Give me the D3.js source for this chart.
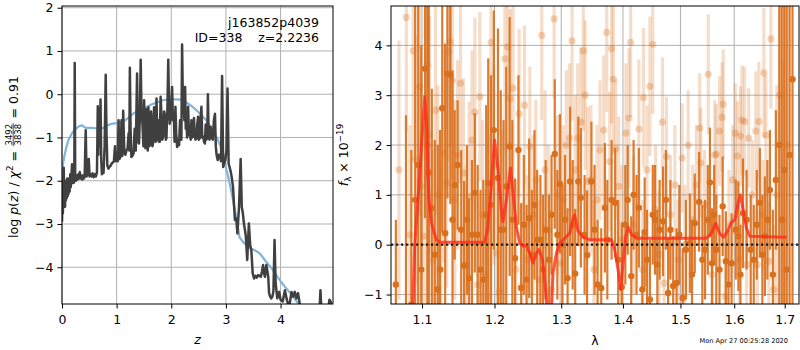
<!DOCTYPE html>
<html>
<head>
<meta charset="utf-8">
<script src="https://cdn.jsdelivr.net/npm/d3@7"></script>
<style>
  body { margin: 0; background: #fff; }
  text { font-family: "DejaVu Sans", sans-serif; fill: #000; }
</style>
</head>
<body>
<svg id="fig" width="800" height="350"></svg>
<script>
// ---------- redshift probability (left panel) ----------
const zGrid = [0.000,0.008,0.016,0.024,0.032,0.040,0.048,0.056,0.064,0.072,0.080,0.088,0.096,0.104,0.112,0.120,0.130,0.140,0.150,0.160,0.170,0.184,0.195,0.205,0.215,0.225,0.233,0.242,0.255,0.270,0.285,0.300,0.315,0.325,0.340,0.355,0.370,0.385,0.400,0.415,0.434,0.450,0.470,0.490,0.505,0.520,0.540,0.560,0.580,0.600,0.620,0.640,0.655,0.665,0.675,0.690,0.705,0.718,0.730,0.745,0.760,0.780,0.800,0.815,0.830,0.850,0.870,0.890,0.910,0.930,0.950,0.970,0.985,1.000,1.020,1.035,1.050,1.070,1.090,1.105,1.120,1.140,1.160,1.180,1.200,1.220,1.232,1.242,1.255,1.270,1.290,1.310,1.330,1.350,1.374,1.390,1.410,1.425,1.440,1.455,1.472,1.490,1.503,1.515,1.527,1.545,1.557,1.570,1.582,1.600,1.618,1.630,1.643,1.655,1.667,1.685,1.704,1.715,1.730,1.745,1.760,1.775,1.790,1.805,1.820,1.835,1.850,1.870,1.887,1.900,1.911,1.930,1.945,1.958,1.972,1.990,2.015,2.030,2.046,2.060,2.076,2.090,2.107,2.125,2.143,2.160,2.174,2.185,2.198,2.212,2.229,2.240,2.253,2.265,2.278,2.290,2.308,2.325,2.339,2.355,2.369,2.385,2.400,2.415,2.430,2.445,2.461,2.475,2.491,2.505,2.522,2.537,2.552,2.567,2.583,2.600,2.615,2.630,2.645,2.660,2.670,2.685,2.700,2.720,2.740,2.760,2.780,2.800,2.815,2.830,2.850,2.870,2.890,2.910,2.930,2.950,2.970,2.990,3.010,3.030,3.050,3.070,3.090,3.110,3.130,3.150,3.165,3.190,3.210,3.240,3.270,3.290,3.310,3.330,3.350,3.365,3.390,3.420,3.445,3.465,3.490,3.515,3.540,3.565,3.590,3.615,3.640,3.660,3.680,3.700,3.715,3.740,3.760,3.775,3.790,3.810,3.830,3.850,3.870,3.890,3.910,3.940,3.975,4.000,4.040,4.080,4.110,4.140,4.170,4.200,4.230,4.260,4.290,4.320,4.350,4.380,4.450,4.550,4.650,4.710,4.730,4.750,4.850,4.895,4.920,4.945,4.970];
const logPz = [-2.95,-2.30,-2.75,-2.05,-1.70,-2.55,-2.15,-2.60,-2.00,-2.45,-2.05,-2.40,-1.95,-2.35,-2.00,-2.30,-1.95,-2.25,-1.85,-2.15,-1.95,-1.62,-2.05,-1.90,-2.05,-1.95,0.72,-1.90,-2.00,-1.88,-1.97,-1.85,-1.95,-1.80,-1.95,-1.88,-1.97,-1.88,-1.95,-1.90,-0.83,-1.90,-1.85,-1.50,-1.90,-1.85,-1.90,-1.83,-1.92,-1.85,-1.90,-1.80,-0.28,-1.40,-0.35,-1.20,-0.12,-1.50,-1.85,-1.75,-1.82,-1.20,0.45,-0.90,-1.65,-1.72,-1.68,-1.65,-1.60,-1.58,-1.55,-1.20,-1.55,-1.50,-1.55,-0.60,-1.50,-1.45,-0.60,-1.42,-0.38,-1.35,-1.40,-1.30,-1.25,-0.90,-1.30,0.61,-0.80,-1.45,-1.42,-1.37,-0.80,-1.30,0.48,-1.10,-1.14,-0.50,0.80,-0.40,-0.68,-1.20,-0.14,-1.00,-1.25,-0.35,-0.83,-1.30,-0.30,-1.20,-1.14,-0.40,-0.72,-1.20,-1.14,-0.30,-0.52,-1.10,-0.10,-1.06,-0.60,-1.10,-1.10,-0.06,-0.45,-1.05,-0.98,-0.40,-0.52,-1.05,-1.02,-0.30,0.80,-0.20,-0.68,-0.55,0.17,-0.60,-0.45,-1.10,-0.29,-0.90,-1.22,-1.05,-1.18,-0.60,-0.60,-1.05,1.15,-0.20,-0.29,-0.60,0.17,-0.80,-0.60,-1.00,-0.29,-0.95,-0.83,-1.05,-0.60,-1.00,-0.98,-0.55,-0.95,-1.05,-1.02,-0.70,-0.52,-1.05,-1.02,-0.55,-0.29,-1.00,-0.98,-1.10,-1.14,-0.70,-1.05,-1.00,0.00,-1.00,-1.05,-0.75,-1.00,-1.05,-0.60,-0.45,-1.20,-1.41,-1.52,-1.40,-1.40,-1.55,0.42,-1.68,-1.60,-1.52,-1.30,0.13,-1.60,-1.70,-1.80,-1.95,-2.14,-2.60,-2.91,-2.87,-3.22,-2.60,-1.50,-2.60,-2.75,-2.99,-3.15,-3.29,-3.83,-2.99,-3.50,-3.60,-4.14,-4.26,-4.20,-4.24,-4.18,-4.20,-4.22,-4.10,-3.95,-4.15,-4.22,-3.95,-4.10,-4.22,-4.60,-4.68,-4.72,-4.68,-4.55,-3.37,-4.37,-4.72,-4.57,-4.75,-4.79,-4.53,-4.72,-4.87,-4.83,-4.57,-4.68,-4.57,-4.72,-4.60,-4.83,-5.10,-5.30,-5.40,-5.30,-5.10,-4.53,-5.05,-5.20,-4.75,-4.80,-5.00,-5.10];

const priorZ = [0.00,0.04,0.08,0.12,0.17,0.23,0.29,0.33,0.37,0.41,0.45,0.51,0.57,0.63,0.69,0.75,0.81,0.87,0.93,1.00,1.06,1.12,1.18,1.24,1.30,1.39,1.48,1.57,1.67,1.76,1.85,1.94,2.03,2.11,2.19,2.25,2.31,2.38,2.46,2.55,2.64,2.73,2.83,2.90,2.95,3.01,3.05,3.10,3.13,3.19,3.25,3.28,3.34,3.40,3.48,3.56,3.62,3.68,3.74,3.80,3.86,3.93,4.00,4.08,4.16,4.23,4.29,4.32,4.36,4.40];
const priorLogP = [-1.75,-1.45,-1.22,-1.05,-0.93,-0.82,-0.76,-0.73,-0.72,-0.76,-0.78,-0.78,-0.78,-0.79,-0.82,-0.78,-0.74,-0.70,-0.68,-0.67,-0.66,-0.63,-0.58,-0.52,-0.45,-0.38,-0.33,-0.28,-0.22,-0.18,-0.14,-0.12,-0.12,-0.12,-0.13,-0.16,-0.22,-0.28,-0.37,-0.48,-0.60,-0.78,-0.99,-1.20,-1.37,-1.75,-1.95,-2.25,-2.45,-2.85,-3.31,-3.36,-3.45,-3.52,-3.58,-3.63,-3.68,-3.78,-3.88,-3.97,-4.06,-4.20,-4.32,-4.45,-4.57,-4.68,-4.78,-4.83,-4.90,-4.96];

const zTicks = [0, 1, 2, 3, 4];
const logPTicks = [-4, -3, -2, -1, 0, 1, 2];

// ---------- grism spectrum (right panel), flux in 1e-19 ----------
const darkWave = [1.066,1.079,1.086,1.091,1.095,1.099,1.104,1.107,1.109,1.113,1.117,1.121,1.124,1.127,1.131,1.134,1.138,1.141,1.144,1.148,1.153,1.157,1.161,1.164,1.168,1.172,1.176,1.180,1.184,1.188,1.191,1.195,1.199,1.205,1.209,1.213,1.217,1.222,1.226,1.230,1.235,1.239,1.243,1.247,1.251,1.255,1.259,1.263,1.268,1.272,1.276,1.281,1.285,1.290,1.294,1.298,1.302,1.306,1.310,1.314,1.318,1.322,1.327,1.331,1.337,1.341,1.348,1.353,1.358,1.364,1.370,1.374,1.381,1.387,1.392,1.398,1.404,1.408,1.414,1.418,1.423,1.427,1.433,1.437,1.441,1.446,1.451,1.455,1.459,1.463,1.469,1.474,1.478,1.482,1.487,1.493,1.498,1.504,1.510,1.517,1.521,1.526,1.534,1.540,1.545,1.550,1.554,1.558,1.562,1.566,1.572,1.578,1.584,1.589,1.595,1.603,1.608,1.612,1.617,1.624,1.632,1.638,1.644,1.650,1.655,1.660,1.665,1.670,1.676,1.682,1.689,1.694,1.699,1.704,1.710,1.716];
const darkFlux = [-0.8,-1.4,-1.2,0.9,1.6,-0.5,3.53,2.0,1.45,0.73,-0.2,-0.9,-0.5,2.74,0.23,3.43,3.41,0.5,1.2,1.6,0.3,-0.42,0.5,-0.67,0.2,1.04,0.2,-0.5,-0.7,0.6,1.24,0.8,2.3,1.34,0.3,0.3,1.17,1.97,0.5,-0.27,1.9,-0.87,0.4,-0.7,0.53,-0.2,0.8,0.1,0.1,-0.5,0.3,-0.3,0.6,1.82,0.2,1.22,0.0,0.5,-0.67,1.27,0.4,-0.58,1.27,0.94,0.2,-0.21,1.27,0.3,-0.8,-0.87,0.74,0.1,0.9,0.84,-0.3,-0.85,0.4,0.9,-0.63,1.0,0.2,0.74,-0.9,0.25,-0.3,-1.1,0.6,0.5,-0.4,0.3,0.47,0.9,-0.97,0.3,-0.83,-0.77,0.2,-1.07,-0.1,0.03,-0.6,0.43,0.86,-0.3,-0.1,0.5,1.25,-0.37,0.6,-0.1,-0.5,0.77,-0.33,-0.8,-0.37,0.3,0.17,-0.6,0.63,0.5,-0.1,-0.3,0.4,0.84,-0.2,0.17,0.5,1.1,-0.6,1.3,2.0,0.5,1.5,-0.5,1.8,3.32];
const darkErr = [1.3,4.0,3.1,4.5,3.6,4.5,3.0,4.2,3.5,2.4,2.3,2.9,2.8,2.5,3.8,2.5,2.6,3.0,1.5,1.3,1.6,1.7,1.5,1.6,1.5,1.6,1.4,1.6,2.0,2.2,2.5,2.6,2.4,3.0,2.8,2.2,2.4,2.6,2.0,1.6,1.5,1.7,1.4,1.5,1.6,1.3,1.5,1.4,1.3,1.5,1.4,1.3,1.2,1.5,1.3,1.4,1.2,1.3,1.4,1.5,1.3,1.3,1.3,1.4,1.2,1.3,1.2,1.3,1.3,1.2,1.3,1.2,1.2,1.1,1.2,1.3,1.2,1.1,1.2,1.1,1.2,1.2,1.1,1.1,1.0,1.2,1.0,1.1,1.1,1.0,1.1,1.0,1.1,1.0,1.0,1.1,1.0,1.0,1.0,1.0,1.1,1.0,1.0,1.1,1.0,1.1,1.1,1.1,1.0,1.1,1.1,1.0,1.0,1.1,1.0,1.0,1.1,1.0,1.1,1.0,1.1,1.1,1.1,1.1,1.2,1.2,1.2,1.2,1.3,1.4,4.0,5.0,4.5,5.5,6.0,5.0];

const lightWave = [1.070,1.0795,1.084,1.0882,1.092,1.097,1.099,1.103,1.1071,1.1102,1.114,1.118,1.121,1.125,1.129,1.133,1.136,1.138,1.141,1.144,1.148,1.152,1.156,1.160,1.164,1.168,1.172,1.176,1.179,1.183,1.187,1.191,1.195,1.199,1.203,1.207,1.211,1.215,1.219,1.223,1.227,1.231,1.236,1.240,1.244,1.248,1.252,1.257,1.261,1.266,1.270,1.275,1.280,1.285,1.289,1.294,1.299,1.303,1.308,1.313,1.317,1.322,1.326,1.331,1.335,1.338,1.342,1.347,1.352,1.357,1.362,1.368,1.373,1.378,1.381,1.384,1.388,1.393,1.398,1.405,1.410,1.413,1.418,1.427,1.433,1.435,1.441,1.446,1.451,1.456,1.462,1.468,1.471,1.475,1.482,1.490,1.496,1.503,1.508,1.514,1.522,1.529,1.535,1.537,1.544,1.551,1.558,1.563,1.566,1.572,1.577,1.579,1.583,1.590,1.597,1.602,1.606,1.610,1.612,1.615,1.620,1.624,1.628,1.635,1.642,1.645,1.648,1.656,1.658,1.662,1.668,1.672,1.678,1.684,1.690,1.697,1.705];
const lightFlux = [1.5,4.56,0.2,3.89,1.7,3.17,1.17,0.17,3.61,2.2,-0.3,2.7,1.0,-0.5,1.84,1.24,3.87,4.07,3.3,0.9,1.80,3.24,1.44,-0.4,0.97,2.1,2.66,-0.8,2.97,0.6,-0.6,0.3,4.06,1.6,-0.17,-0.94,0.3,3.73,3.97,2.93,3.14,-0.5,2.63,-0.84,2.8,-0.3,1.97,0.6,1.3,-0.7,4.2,1.5,0.3,-0.9,4.53,1.0,-0.37,0.9,2.0,2.14,4.09,1.5,2.14,2.46,3.89,3.0,1.27,1.3,-0.5,0.9,1.9,2.3,4.26,1.67,3.93,3.32,1.92,1.17,0.1,2.24,2.54,4.06,0.4,2.32,-0.5,2.95,1.5,3.18,4.02,0.7,-0.2,2.46,-0.77,1.77,0.6,1.2,-0.3,1.74,0.0,2.0,0.5,1.2,2.34,1.64,0.8,3.42,-0.6,1.8,1.82,2.28,2.56,2.82,-1.04,0.4,1.3,2.24,1.78,-0.3,2.18,2.5,2.47,-0.4,2.14,1.0,2.28,-0.4,2.47,0.6,3.45,2.2,-0.33,4.13,-0.9,1.0,3.0,0.5,2.0];
const lightErr = [2.6,2.3,2.2,2.2,2.5,2.6,2.3,2.1,2.3,2.4,2.2,2.1,2.2,2.1,2.2,2.1,2.2,2.1,2.0,2.0,1.9,2.0,1.9,2.0,1.9,1.8,1.9,1.8,1.7,1.9,1.7,1.9,2.0,2.0,1.9,2.1,2.0,1.9,2.0,1.8,1.7,1.8,1.7,1.7,1.6,1.7,1.6,1.6,1.6,1.6,1.7,1.6,1.7,1.6,1.6,1.6,1.6,1.5,1.5,1.5,1.6,1.5,1.5,1.5,1.6,1.5,1.5,1.5,1.4,1.5,1.4,1.5,1.6,1.4,1.5,1.5,1.4,1.4,1.5,1.4,1.4,1.5,1.4,1.4,1.4,1.4,1.3,1.4,1.4,1.3,1.3,1.3,1.2,1.2,1.2,1.2,1.2,1.1,1.2,1.1,1.1,1.2,1.1,1.1,1.1,1.2,1.1,1.1,1.0,1.1,1.1,1.1,1.1,1.1,1.1,1.0,1.1,1.1,1.0,1.1,1.1,1.1,1.0,1.1,1.2,1.1,1.2,1.1,1.3,1.2,1.2,1.4,1.3,2.2,2.8,3.2,3.8];

const modelWave = [1.075,1.0861,1.0882,1.0904,1.0947,1.0992,1.1013,1.1036,1.1062,1.1080,1.1093,1.1125,1.1169,1.1192,1.1236,1.1860,1.1907,1.1956,1.2000,1.2051,1.2100,1.2123,1.2173,1.2232,1.2280,1.2320,1.2369,1.2418,1.2469,1.2518,1.2568,1.2619,1.2659,1.2711,1.2750,1.2781,1.2815,1.2849,1.2873,1.2926,1.2977,1.3055,1.3134,1.3186,1.3213,1.3266,1.3345,1.3453,1.3808,1.3863,1.3918,1.3963,1.4002,1.4047,1.4086,1.4149,1.4229,1.5476,1.5569,1.5650,1.5725,1.5801,1.5883,1.5948,1.6011,1.6075,1.6121,1.6171,1.6238,1.6302,1.7036];
const modelFlux = [-3.0,-1.4,-1.1,0.0,0.9,1.95,2.45,2.97,2.4,1.4,0.9,0.44,0.2,0.1,0.05,0.05,0.36,1.24,2.1,1.5,0.7,0.46,0.9,1.54,0.9,0.36,0.03,-0.03,-0.01,-0.17,-0.37,-0.17,-0.1,-0.3,-0.77,-1.3,-1.6,-1.25,-0.57,-0.17,0.03,0.13,0.23,0.53,0.6,0.27,0.15,0.1,0.1,-0.1,-0.5,-0.9,-0.37,0.17,0.35,0.2,0.13,0.13,0.23,0.43,0.22,0.15,0.3,0.45,0.5,0.84,1.0,0.7,0.33,0.17,0.15];

const waveTicks = [1.1, 1.2, 1.3, 1.4, 1.5, 1.6, 1.7];
const fluxTicks = [-1, 0, 1, 2, 3, 4];

// ---------- drawing ----------
const svg = d3.select('#fig');
const FS = 12.5;
const ORANGE = '#d9701e';

const left = { x0: 62, x1: 333, y0: 6, y1: 304 };
const right = { x0: 391, x1: 799, y0: 6, y1: 304 };

const xz = d3.scaleLinear().domain([0, 4.96]).range([left.x0, left.x1]);
const yp = d3.scaleLinear().domain([-4.85, 2.04]).range([left.y1, left.y0]);
const xw = d3.scaleLog().domain([1.0598, 1.7294]).range([right.x0, right.x1]);
const yf = d3.scaleLinear().domain([-1.19, 4.79]).range([right.y1, right.y0]);

const defs = svg.append('defs');
function clipFor(id, b) {
  defs.append('clipPath').attr('id', id).append('rect')
    .attr('x', b.x0).attr('y', b.y0).attr('width', b.x1 - b.x0).attr('height', b.y1 - b.y0);
  return `url(#${id})`;
}

function grid(g, b, x, y, xt, yt) {
  const gg = g.append('g').attr('stroke', '#b0b0b0').attr('stroke-width', 1);
  xt.forEach(v => gg.append('line').attr('x1', x(v)).attr('x2', x(v)).attr('y1', b.y0).attr('y2', b.y1));
  yt.forEach(v => gg.append('line').attr('x1', b.x0).attr('x2', b.x1).attr('y1', y(v)).attr('y2', y(v)));
}

function axes(g, b, x, y, xt, yt, xfmt, yfmt) {
  const ax = g.append('g').attr('transform', `translate(0,${b.y1})`)
    .call(d3.axisBottom(x).tickValues(xt).tickFormat(xfmt).tickSize(4.5).tickSizeOuter(0).tickPadding(7));
  const ay = g.append('g').attr('transform', `translate(${b.x0},0)`)
    .call(d3.axisLeft(y).tickValues(yt).tickFormat(yfmt).tickSize(4.5).tickSizeOuter(0).tickPadding(4));
  [ax, ay].forEach(a => {
    a.select('.domain').remove();
    a.selectAll('line').attr('stroke', '#000').attr('stroke-width', 1);
    a.selectAll('text').attr('font-size', FS).attr('font-family', '"DejaVu Sans", sans-serif').attr('fill', '#000');
  });
  g.append('rect').attr('x', b.x0).attr('y', b.y0).attr('width', b.x1 - b.x0).attr('height', b.y1 - b.y0)
    .attr('fill', 'none').attr('stroke', '#000').attr('stroke-width', 1);
}

// Build a horizontal run of label pieces (plain, italic, sub/superscripts, stacked fractions)
function mathLabel(parent, pieces) {
  const g = parent.append('g');
  let x = 0;
  pieces.forEach(p => {
    if (p.frac) {
      const size = FS * 0.68;
      const n = g.append('text').attr('font-size', size).attr('text-anchor', 'middle').text(p.frac[0]);
      const d = g.append('text').attr('font-size', size).attr('text-anchor', 'middle').text(p.frac[1]);
      const w = Math.max(n.node().getComputedTextLength(), d.node().getComputedTextLength());
      const pad = 1.5;
      n.attr('x', x + pad + w / 2).attr('y', -5.6);
      d.attr('x', x + pad + w / 2).attr('y', 3.4);
      g.append('line').attr('x1', x + pad * 0.5).attr('x2', x + w + pad * 1.5)
        .attr('y1', -4.3).attr('y2', -4.3).attr('stroke', '#000').attr('stroke-width', 0.7);
      x += w + 2 * pad;
    } else {
      const t = g.append('text').attr('x', x).attr('y', p.dy || 0)
        .attr('font-size', p.small ? FS * 0.7 : FS)
        .attr('font-style', p.it ? 'italic' : null)
        .text(p.t);
      x += t.node().getComputedTextLength();
    }
  });
  return { g, width: x };
}

// ----- left panel -----
const gl = svg.append('g');
grid(gl, left, xz, yp, zTicks, logPTicks);
const clipL = clipFor('clipL', left);
const pzData = zGrid.map((z, i) => [z, logPz[i]]);
const priorData = priorZ.map((z, i) => [z, priorLogP[i]]);
const lineZ = d3.line().x(d => xz(d[0])).y(d => yp(d[1]));
gl.append('path').datum(priorData).attr('d', lineZ).attr('clip-path', clipL)
  .attr('fill', 'none').attr('stroke', '#82b3d8').attr('stroke-width', 2.2).attr('stroke-linejoin', 'round');
gl.append('path').datum(pzData).attr('d', lineZ).attr('clip-path', clipL)
  .attr('fill', 'none').attr('stroke', '#404040').attr('stroke-width', 2.5).attr('stroke-linejoin', 'round');
axes(gl, left, xz, yp, zTicks, logPTicks, d3.format('d'), d3.format('d'));

gl.append('text').attr('x', 319).attr('y', 27).attr('text-anchor', 'end').attr('font-size', FS).text('j163852p4039');
gl.append('text').attr('x', 319).attr('y', 42).attr('text-anchor', 'end').attr('font-size', FS)
  .text('ID=338\u00a0\u00a0\u00a0\u00a0z=2.2236');

gl.append('text').attr('x', (left.x0 + left.x1) / 2).attr('y', 344).attr('text-anchor', 'middle')
  .attr('font-size', FS).attr('font-style', 'italic').text('z');

const ylabL = svg.append('g').attr('transform', 'translate(17.5,157) rotate(-90)');
const labL = mathLabel(ylabL, [
  { t: 'log\u00a0' }, { t: 'p', it: true }, { t: '(' }, { t: 'z', it: true }, { t: ')\u00a0/\u00a0' },
  { t: 'χ', it: true }, { t: '2', small: true, dy: -5 }, { t: '\u00a0=\u00a0' },
  { frac: ['3492', '3838'] }, { t: '\u00a0=\u00a00.91' }
]);
labL.g.attr('transform', `translate(${-labL.width / 2},0)`);

// ----- right panel -----
const gr = svg.append('g');
grid(gr, right, xw, yf, waveTicks, fluxTicks);
const clipR = clipFor('clipR', right);
const data = gr.append('g').attr('clip-path', clipR);

const light = lightWave.map((w, i) => ({ w, f: lightFlux[i], e: lightErr[i] }));
const dark = darkWave.map((w, i) => ({ w, f: darkFlux[i], e: darkErr[i] }));

data.append('g').selectAll('line').data(light).join('line')
  .attr('x1', d => xw(d.w)).attr('x2', d => xw(d.w))
  .attr('y1', d => yf(d.f - d.e)).attr('y2', d => yf(d.f + d.e))
  .attr('stroke', ORANGE).attr('stroke-opacity', 0.24).attr('stroke-width', 3.2);
data.append('g').selectAll('circle').data(light).join('circle')
  .attr('cx', d => xw(d.w)).attr('cy', d => yf(d.f)).attr('r', 3.6)
  .attr('fill', ORANGE).attr('fill-opacity', 0.3);

data.append('g').selectAll('line').data(dark).join('line')
  .attr('x1', d => xw(d.w)).attr('x2', d => xw(d.w))
  .attr('y1', d => yf(d.f - d.e)).attr('y2', d => yf(d.f + d.e))
  .attr('stroke', ORANGE).attr('stroke-opacity', 0.92).attr('stroke-width', 2.2);
data.append('g').selectAll('circle').data(dark).join('circle')
  .attr('cx', d => xw(d.w)).attr('cy', d => yf(d.f)).attr('r', 3.2)
  .attr('fill', ORANGE);

data.append('line').attr('x1', right.x0).attr('x2', right.x1).attr('y1', yf(0)).attr('y2', yf(0))
  .attr('stroke', '#1a1a1a').attr('stroke-width', 2.2).attr('stroke-dasharray', '2.2,2.8');

const model = modelWave.map((w, i) => [w, modelFlux[i]]);
data.append('path').datum(model)
  .attr('d', d3.line().x(d => xw(d[0])).y(d => yf(d[1])))
  .attr('fill', 'none').attr('stroke', '#ff2a1a').attr('stroke-opacity', 0.8)
  .attr('stroke-width', 3).attr('stroke-linejoin', 'round');

axes(gr, right, xw, yf, waveTicks, fluxTicks, d3.format('.1f'), d3.format('d'));

gr.append('text').attr('x', (right.x0 + right.x1) / 2).attr('y', 345).attr('text-anchor', 'middle')
  .attr('font-size', FS).text('λ');

const ylabR = svg.append('g').attr('transform', 'translate(348,155) rotate(-90)');
const labR = mathLabel(ylabR, [
  { t: 'f', it: true }, { t: 'λ', small: true, dy: 3 }, { t: '\u00a0×\u00a010' }, { t: '−19', small: true, dy: -5.5 }
]);
labR.g.attr('transform', `translate(${-labR.width / 2},0)`);

svg.append('text').attr('x', 788).attr('y', 343).attr('text-anchor', 'end')
  .attr('font-size', 6.6).text('Mon Apr 27 00:25:28 2020');
</script>
</body>
</html>
